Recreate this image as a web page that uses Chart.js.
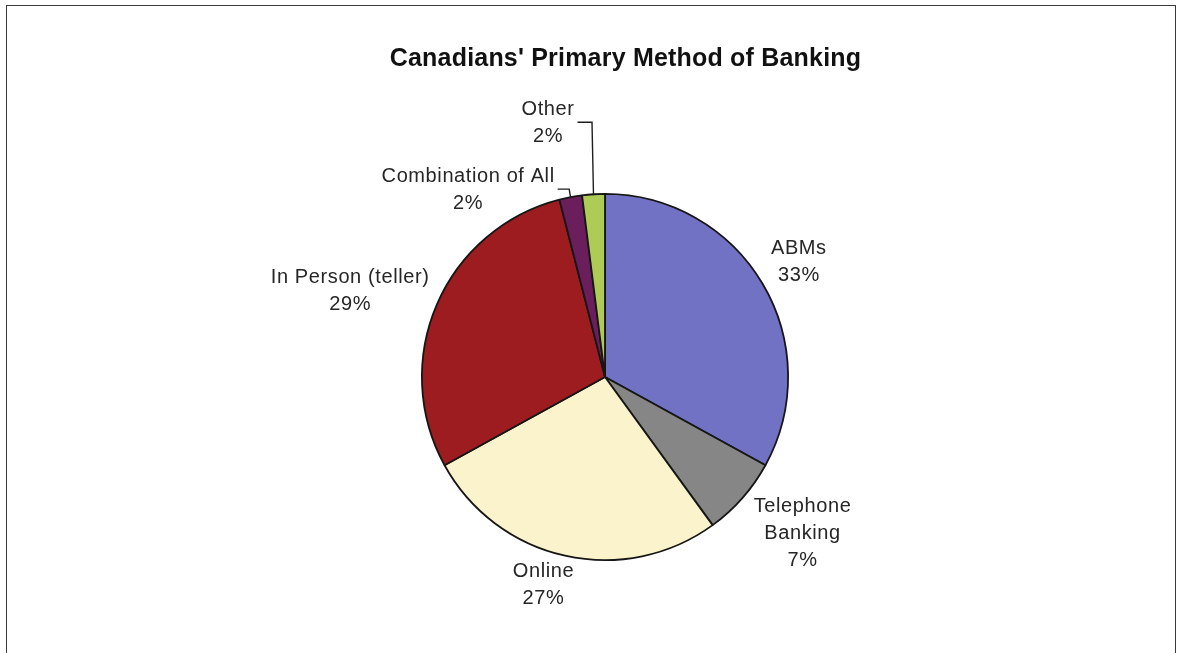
<!DOCTYPE html>
<html>
<head>
<meta charset="utf-8">
<script src="https://cdn.jsdelivr.net/npm/chart.js@4.4.1/dist/chart.umd.min.js"></script>
<style>
  html, body { margin: 0; padding: 0; background: #ffffff; overflow: hidden; }
  #wrap { position: relative; width: 1177px; height: 653px; }
  #c { position: absolute; left: 0; top: 0; }
  #frame { position: absolute; left: 6px; top: 5px; width: 1170px; height: 700px;
           border: 1.5px solid #3a3a3a; pointer-events: none; box-sizing: border-box; }
</style>
</head>
<body>
<div id="wrap">
  <canvas id="c" width="1177" height="653"></canvas>
  <div id="frame"></div>
</div>
<script>
// ---- data ----
const chartTitle = "Canadians' Primary Method of Banking";
const categories = ['ABMs', 'Telephone Banking', 'Online', 'In Person (teller)', 'Combination of All', 'Other'];
const categoryLines = [['ABMs'], ['Telephone', 'Banking'], ['Online'], ['In Person (teller)'], ['Combination of All'], ['Other']];
const shares = [33, 7, 27, 29, 2, 2];
const sliceColors = ['#7272c4', '#868686', '#fbf3cb', '#9c1c20', '#6a1e5c', '#aecb55'];

// ---- label placement styles (relative to each arc's geometry) ----
const labelPlacement = [
  { k: 1.23,  dx: 0,   dy: 0 },
  { k: 1.38,  dx: 8,   dy: -11 },
  { k: 1.165, dx: -15, dy: 0 },
  { k: 1.475, dx: -7,  dy: 21 },
  { leader: true, rise: 7,  gap: 16 },
  { leader: true, rise: 71, gap: 19 }
];

const LABEL_FONT = '20px "Liberation Sans", Arial, sans-serif';
const LINE_H = 27;

const labelPlugin = {
  id: 'sliceLabels',
  afterDraw(chart) {
    const ctx = chart.ctx;
    const meta = chart.getDatasetMeta(0);
    ctx.save();
    // title
    ctx.font = 'bold 25px "Liberation Sans", Arial, sans-serif';
    if ('letterSpacing' in ctx) ctx.letterSpacing = '0.2px';
    ctx.fillStyle = '#111111';
    ctx.textAlign = 'center';
    ctx.textBaseline = 'middle';
    ctx.fillText(chartTitle, chart.width / 2 + 37, 59);

    ctx.font = LABEL_FONT;
    if ('letterSpacing' in ctx) ctx.letterSpacing = '0.6px';
    ctx.fillStyle = '#262626';
    ctx.strokeStyle = '#1e1e1e';
    ctx.lineWidth = 1.4;

    meta.data.forEach((arc, i) => {
      const p = arc.getProps(['x', 'y', 'startAngle', 'endAngle', 'outerRadius'], true);
      const mid = (p.startAngle + p.endAngle) / 2;
      const lines = categoryLines[i].concat([shares[i] + '%']);
      const pl = labelPlacement[i];
      const blockH = LINE_H * lines.length;
      let cx, cy;
      if (pl.leader) {
        const ex = p.x + Math.cos(mid) * p.outerRadius;
        const ey = p.y + Math.sin(mid) * p.outerRadius;
        const w = Math.max(...lines.map(l => ctx.measureText(l).width));
        const right = ex - pl.gap;
        cx = right - w / 2;
        cy = ey - pl.rise;
        ctx.beginPath();
        ctx.moveTo(right + 3, cy - 1);
        ctx.lineTo(ex - 1.5, cy - 1);
        ctx.lineTo(ex, ey + 1);
        ctx.stroke();
      } else {
        cx = p.x + Math.cos(mid) * p.outerRadius * pl.k + pl.dx;
        cy = p.y + Math.sin(mid) * p.outerRadius * pl.k + pl.dy;
      }
      lines.forEach((t, j) => {
        ctx.fillText(t, cx, cy - blockH / 2 + LINE_H * (j + 0.5));
      });
    });
    ctx.restore();
  }
};

new Chart(document.getElementById('c'), {
  type: 'pie',
  data: {
    labels: categories,
    datasets: [{
      data: shares,
      backgroundColor: sliceColors,
      borderColor: '#161616',
      borderWidth: 1.8
    }]
  },
  options: {
    responsive: false,
    animation: false,
    layout: { padding: { top: 193, bottom: 92, left: 400, right: 367 } },
    plugins: {
      legend: { display: false },
      title: { display: false },
      tooltip: { enabled: false }
    }
  },
  plugins: [labelPlugin]
});
</script>
</body>
</html>
